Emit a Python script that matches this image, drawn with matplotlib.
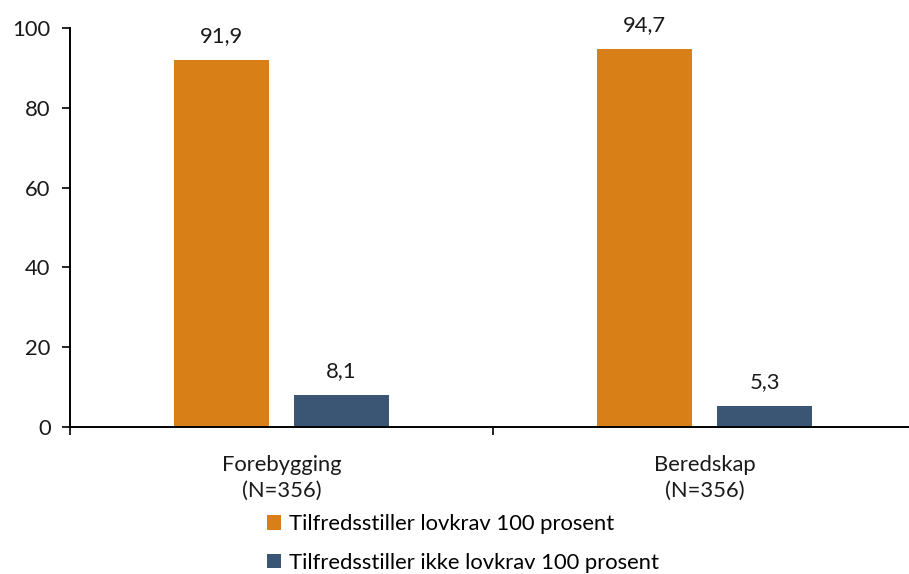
import matplotlib
matplotlib.use("Agg")
import matplotlib.pyplot as plt
import numpy as np

categories = ["Forebygging\n(N=356)", "Beredskap\n(N=356)"]
series_names = ["Tilfredsstiller lovkrav 100 prosent", "Tilfredsstiller ikke lovkrav 100 prosent"]
oppfyller = [91.9, 94.7]
ikke_oppfyller = [8.1, 5.3]
colors = ["#D97F17", "#3A5674"]
yticks = [0, 20, 40, 60, 80, 100]

plt.rcParams['font.family'] = ['Lato', 'DejaVu Sans']
FS = 15.8
W, H = 909, 574
fig = plt.figure(figsize=(W/100, H/100), dpi=100)
ax = fig.add_axes([70/W, (H-427)/H, (916-70)/W, (427-28)/H])

x = np.arange(len(categories))
w = 0.225
off = 0.142
b1 = ax.bar(x - off, oppfyller, w, color=colors[0], label=series_names[0])
b2 = ax.bar(x + off, ikke_oppfyller, w, color=colors[1], label=series_names[1])
for bars, vals in ((b1, oppfyller), (b2, ikke_oppfyller)):
    for r, v in zip(bars, vals):
        ax.annotate(f"{v:.1f}".replace(".", ","), (r.get_x() + r.get_width()/2, v),
                    xytext=(0, 10), textcoords="offset points", ha="center", va="bottom",
                    fontsize=FS, color="#1a1a1a")

ax.set_xlim(-0.5, 1.5)
ax.set_ylim(0, 100)
ax.set_yticks(yticks)
ax.set_yticklabels([str(t) for t in yticks], fontsize=FS, color="#1a1a1a")
ax.set_xticks([-0.5, 0.5, 1.5])
ax.set_xticklabels([])
ax.set_xticks(x, minor=True)
ax.set_xticklabels(categories, minor=True, fontsize=FS, color="#1a1a1a", linespacing=1.35)
ax.tick_params(axis="x", which="minor", length=0, pad=20)
ax.tick_params(axis="x", which="major", length=6, width=1.2, direction="out")
ax.tick_params(axis="y", length=6, width=1.2, pad=8)
for s in ["top", "right"]:
    ax.spines[s].set_visible(False)
ax.spines["left"].set_linewidth(1.4)
ax.spines["bottom"].set_linewidth(1.4)

fig.legend(handles=[b1, b2], loc="upper left", bbox_to_anchor=(256/W, 1 - 503/H),
           frameon=False, fontsize=FS, handlelength=0.65, handleheight=0.65,
           handletextpad=0.35, labelspacing=0.85, borderpad=0)

fig.savefig("out.png", dpi=100)
